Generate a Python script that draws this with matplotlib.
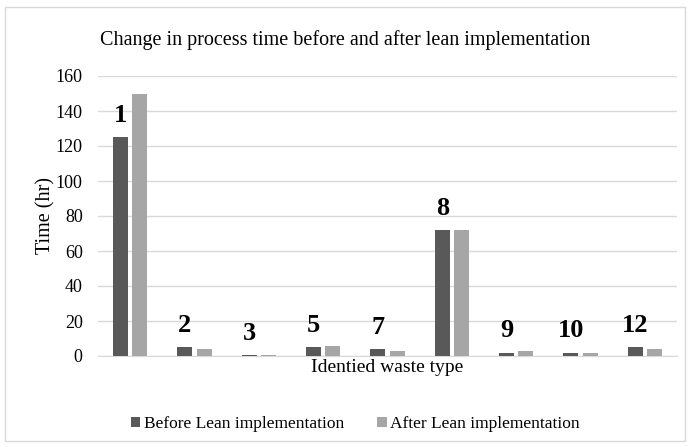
import matplotlib.pyplot as plt
import numpy as np
from matplotlib.patches import Rectangle

plt.rcParams['font.family'] = ['Liberation Serif', 'DejaVu Serif']

# Data
waste_types = ['1', '2', '3', '5', '7', '8', '9', '10', '12']
before_lean = [125, 5, 0.5, 5, 4, 72, 2, 2, 5]
after_lean = [150, 4, 0.3, 6, 3, 72, 3, 2, 4]

dark = '#595959'
light = '#a6a6a6'
grid = '#d9d9d9'

fig = plt.figure(figsize=(6.9, 4.47), dpi=100)
ax = fig.add_axes([98 / 690, 1 - 356 / 447, 579 / 690, 280 / 447])

# Chart border
fig.patches.append(Rectangle((5 / 690, 6 / 447), 680 / 690, 434 / 447,
                             transform=fig.transFigure, fill=False,
                             edgecolor=grid, lw=1))

x = np.arange(len(waste_types))
w = 0.233
off = 0.148
ax.bar(x - off, before_lean, w, color=dark, label='Before Lean implementation', zorder=3)
ax.bar(x + off, after_lean, w, color=light, label='After Lean implementation', zorder=3)

# Waste type numbers above the "before" bars
for xi, v, lab in zip(x, before_lean, waste_types):
    ax.annotate(lab, (xi - off, v), xytext=(0, 11), textcoords='offset points',
                ha='center', va='baseline', fontsize=19, fontweight='bold')

ax.set_xlim(-0.5, len(waste_types) - 0.5)
ax.set_ylim(0, 160)
ax.set_yticks(range(0, 161, 20))
ax.set_xticks([])
ax.yaxis.grid(True, color=grid, lw=1, zorder=0)
for s in ['top', 'right', 'left']:
    ax.spines[s].set_visible(False)
ax.spines['bottom'].set_color(grid)
ax.tick_params(axis='y', length=0, labelsize=13, pad=11)

ax.set_ylabel('Time (hr)', fontsize=14.5, labelpad=0)
ax.set_xlabel('Identied waste type', fontsize=14, labelpad=2)
fig.text(0.5, 1 - 40 / 447, 'Change in process time before and after lean implementation',
         ha='center', va='center', fontsize=14.5)

fig.legend(loc='center', bbox_to_anchor=(0.515, 1 - 424 / 447), ncol=2, frameon=False,
           fontsize=12.5, handlelength=0.55, handleheight=0.55, handletextpad=0.2,
           columnspacing=1.9)

fig.savefig('out.png', dpi=100)
